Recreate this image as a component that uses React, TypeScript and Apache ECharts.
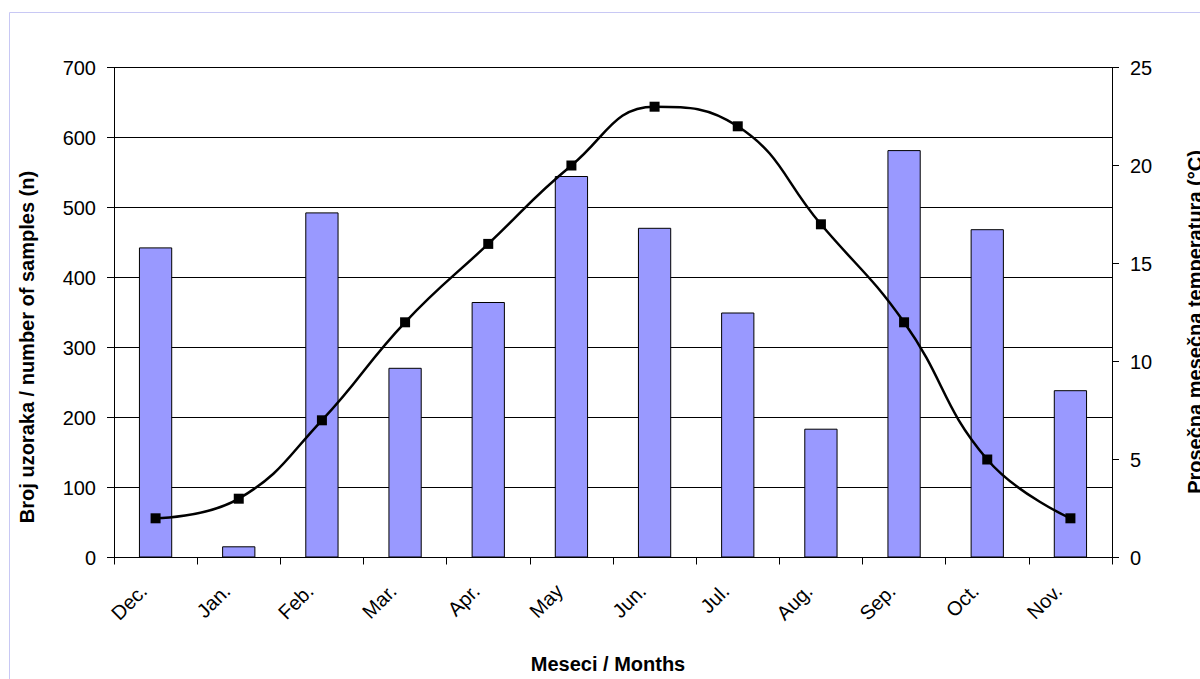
import React, { useEffect, useRef } from "react";
import * as echarts from "echarts";

const months = ["Dec.", "Jan.", "Feb.", "Mar.", "Apr.", "May", "Jun.", "Jul.", "Aug.", "Sep.", "Oct.", "Nov."];
const sampleCounts = [443, 16, 493, 271, 365, 545, 471, 350, 184, 582, 469, 239];
const temperatures = [2, 3, 7, 12, 16, 20, 23, 22, 17, 12, 5, 2];
const leftAxisRange = [0, 700, 100];
const rightAxisRange = [0, 25, 5];
const leftTitle = "Broj uzoraka / number of samples (n)";
const rightTitle = "Prosečna mesečna temperatura (°C)";
const xTitle = "Meseci / Months";

const FONT = '"Liberation Sans", Arial, Helvetica, sans-serif';

export default function App() {
  const ref = useRef<HTMLDivElement>(null);

  useEffect(() => {
    if (!ref.current) return;
    const chart = echarts.init(ref.current, undefined, { renderer: "svg" });
    const axisLine = { show: true, lineStyle: { color: "#000", width: 1 } };
    const axisLabelBase = { color: "#000", fontSize: 20, fontFamily: FONT };
    chart.setOption({
      animation: false,
      backgroundColor: "#fff",
      textStyle: { fontFamily: FONT },
      grid: { left: 114, top: 67.5, width: 998, height: 490, containLabel: false },
      xAxis: {
        type: "category",
        data: months,
        boundaryGap: true,
        axisLine,
        axisTick: { show: true, interval: 0, alignWithLabel: false, length: 7, lineStyle: { color: "#000" } },
        axisLabel: {
          ...axisLabelBase,
          interval: 0,
          rotate: 45,
          margin: 18,
          padding: [0, 17, 0, 0],
        },
        splitLine: { show: false },
      },
      yAxis: [
        {
          type: "value",
          min: leftAxisRange[0],
          max: leftAxisRange[1],
          interval: leftAxisRange[2],
          axisLine,
          axisTick: { show: true, length: 7, lineStyle: { color: "#000" } },
          axisLabel: { ...axisLabelBase, margin: 18 },
          splitLine: { show: true, lineStyle: { color: "#000", width: 1 } },
        },
        {
          type: "value",
          position: "right",
          min: rightAxisRange[0],
          max: rightAxisRange[1],
          interval: rightAxisRange[2],
          axisLine,
          axisTick: { show: true, length: 7, lineStyle: { color: "#000" } },
          axisLabel: { ...axisLabelBase, margin: 18 },
          splitLine: { show: false },
        },
      ],
      series: [
        {
          type: "bar",
          name: "samples",
          data: sampleCounts,
          yAxisIndex: 0,
          barWidth: "40%",
          itemStyle: { color: "#9999ff", borderColor: "#000", borderWidth: 1 },
        },
        {
          type: "line",
          name: "temperature",
          data: temperatures,
          yAxisIndex: 1,
          smooth: 0.45,
          symbol: "rect",
          symbolSize: 10,
          lineStyle: { color: "#000", width: 2.5 },
          itemStyle: { color: "#000" },
          z: 5,
        },
      ],
      graphic: [
        {
          type: "rect",
          silent: true,
          z: -10,
          shape: { x: 9.5, y: 12.5, width: 1400, height: 1000 },
          style: { fill: "none", stroke: "#c8c8f4", lineWidth: 1 },
        },
        {
          type: "text",
          x: 27,
          y: 347,
          rotation: Math.PI / 2,
          style: {
            text: leftTitle,
            font: `bold 20px ${FONT}`,
            fill: "#000",
            align: "center",
            verticalAlign: "middle",
            textAlign: "center",
            textVerticalAlign: "middle",
          },
        },
        {
          type: "text",
          x: 1195,
          y: 322,
          rotation: Math.PI / 2,
          style: {
            text: rightTitle,
            font: `bold 20px ${FONT}`,
            fill: "#000",
            align: "center",
            verticalAlign: "middle",
            textAlign: "center",
            textVerticalAlign: "middle",
          },
        },
        {
          type: "text",
          x: 608,
          y: 664,
          style: {
            text: xTitle,
            font: `bold 20px ${FONT}`,
            fill: "#000",
            align: "center",
            verticalAlign: "middle",
            textAlign: "center",
            textVerticalAlign: "middle",
          },
        },
      ],
    });
    return () => chart.dispose();
  }, []);

  return (
    <div
      ref={ref}
      style={{ position: "fixed", left: 0, top: 0, width: 1200, height: 679, background: "#fff" }}
    />
  );
}
